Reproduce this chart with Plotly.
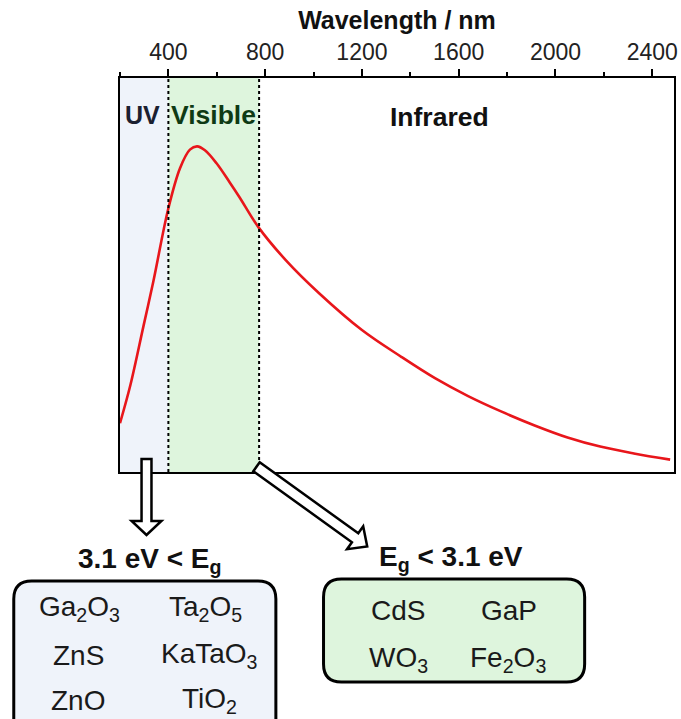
import plotly.graph_objects as go

# ---- data ----
wavelength_nm = [200, 243, 297, 338, 400, 448, 489, 519, 551, 599, 653, 694, 772,
                 886, 1023, 1200, 1364, 1502, 1639, 1775, 1914, 2050, 2185, 2324, 2474]
intensity = [0.150, 0.267, 0.448, 0.586, 0.810, 0.933, 0.990, 1.000, 0.988, 0.948,
             0.890, 0.844, 0.752, 0.650, 0.549, 0.436, 0.353, 0.288, 0.233, 0.186,
             0.143, 0.106, 0.078, 0.057, 0.038]
tick_vals = [400, 800, 1200, 1600, 2000, 2400]
uv_range = [200, 400]
visible_range = [400, 775]
region_labels = ["UV", "Visible", "Infrared"]
wide_gap = ["Ga<sub>2</sub>O<sub>3</sub>", "Ta<sub>2</sub>O<sub>5</sub>",
            "ZnS", "KaTaO<sub>3</sub>", "ZnO", "TiO<sub>2</sub>"]
narrow_gap = ["CdS", "GaP", "WO<sub>3</sub>", "Fe<sub>2</sub>O<sub>3</sub>"]

# ---- layout geometry (pixels) ----
W, H = 681, 719
ML, MR, MT, MB = 120, 3, 78, 247
PW, PH = W - ML - MR, H - MT - MB
FONT = "Arial, Liberation Sans, sans-serif"


def px(x):
    return (x - ML) / PW


def py(y):
    return (H - MB - y) / PH


def arrow_path(x0, y0, x1, y1, shw, hhw, hlen):
    import math
    dx, dy = x1 - x0, y1 - y0
    L = math.hypot(dx, dy)
    ux, uy = dx / L, dy / L
    nx, ny = -uy, ux
    bx, by = x1 - ux * hlen, y1 - uy * hlen
    pts = [
        (x0 + nx * shw, y0 + ny * shw),
        (bx + nx * shw, by + ny * shw),
        (bx + nx * hhw, by + ny * hhw),
        (x1, y1),
        (bx - nx * hhw, by - ny * hhw),
        (bx - nx * shw, by - ny * shw),
        (x0 - nx * shw, y0 - ny * shw),
    ]
    return "M " + " L ".join(f"{px(a):.5f},{py(b):.5f}" for a, b in pts) + " Z"


def rounded_box(x0, y0, x1, y1, r):
    P = lambda a, b: f"{px(a):.5f},{py(b):.5f}"
    return (f"M {P(x0 + r, y0)} L {P(x1 - r, y0)} Q {P(x1, y0)} {P(x1, y0 + r)} "
            f"L {P(x1, y1 - r)} Q {P(x1, y1)} {P(x1 - r, y1)} "
            f"L {P(x0 + r, y1)} Q {P(x0, y1)} {P(x0, y1 - r)} "
            f"L {P(x0, y0 + r)} Q {P(x0, y0)} {P(x0 + r, y0)} Z")


fig = go.Figure()
fig.add_trace(go.Scatter(x=wavelength_nm, y=intensity, mode="lines",
                         line=dict(color="#e8161b", width=2.6, shape="spline", smoothing=1.0),
                         hoverinfo="skip", showlegend=False))

shapes = [
    dict(type="rect", xref="x", yref="paper", x0=uv_range[0], x1=uv_range[1], y0=0, y1=1,
         fillcolor="#eff3fa", line_width=0, layer="below"),
    dict(type="rect", xref="x", yref="paper", x0=visible_range[0], x1=visible_range[1], y0=0, y1=1,
         fillcolor="#def5dd", line_width=0, layer="below"),
    dict(type="line", xref="x", yref="paper", x0=uv_range[1], x1=uv_range[1], y0=0, y1=1,
         line=dict(color="black", width=2, dash="dot")),
    dict(type="line", xref="x", yref="paper", x0=visible_range[1], x1=visible_range[1], y0=0, y1=1,
         line=dict(color="black", width=2, dash="dot")),
    dict(type="path", xref="paper", yref="paper",
         path=arrow_path(146.7, 459, 146.7, 535, 5, 15, 14),
         fillcolor="white", line=dict(color="black", width=2.5)),
    dict(type="path", xref="paper", yref="paper",
         path=arrow_path(257.5, 466.7, 369, 546.5, 5.5, 14, 15),
         fillcolor="white", line=dict(color="black", width=2.5)),
    dict(type="path", xref="paper", yref="paper",
         path=rounded_box(13, 581, 277, 745, 18),
         fillcolor="#eff3fa", line=dict(color="black", width=3)),
    dict(type="path", xref="paper", yref="paper",
         path=rounded_box(325, 579, 588, 682, 18),
         fillcolor="#def5dd", line=dict(color="black", width=3)),
]

ann = []


def text(x, y, t, size, color="#1a1a1a", bold=False):
    ann.append(dict(x=px(x), y=py(y), xref="paper", yref="paper", text=(f"<b>{t}</b>" if bold else t),
                    showarrow=False, xanchor="center", yanchor="middle",
                    font=dict(family=FONT, size=size, color=color)))


text(143, 115, region_labels[0], 25, "#1b2030", True)
text(214, 115, region_labels[1], 26.5, "#0e3a14", True)
text(442, 117, region_labels[2], 26.5, "#111111", True)
text(150, 560, "3.1 eV &lt; E<sub>g</sub>", 28, "#111111", True)
text(453, 558, "E<sub>g</sub> &lt; 3.1 eV", 28, "#111111", True)

left_pos = [(79, 608), (206, 608), (78, 655), (210, 655), (78, 700), (210, 700)]
for (x, y), t in zip(left_pos, wide_gap):
    text(x, y, t, 28)
right_pos = [(400, 610), (512, 610), (401, 659), (511, 659)]
for (x, y), t in zip(right_pos, narrow_gap):
    text(x, y, t, 28)

fig.update_layout(
    width=W, height=H,
    margin=dict(l=ML, r=MR, t=MT, b=MB, pad=0),
    paper_bgcolor="white", plot_bgcolor="white",
    shapes=shapes, annotations=ann,
    xaxis=dict(side="top", range=[200, 2490], tickvals=tick_vals,
               ticks="outside", ticklen=7, tickwidth=2, tickcolor="black",
               minor=dict(dtick=200, tick0=0, ticks="outside", ticklen=4, tickwidth=2, tickcolor="black"),
               showline=True, linecolor="black", linewidth=2, mirror=True,
               showgrid=False, zeroline=False,
               tickfont=dict(family=FONT, size=23, color="#222222"),
               title=dict(text="<b>Wavelength / nm</b>", standoff=2,
                          font=dict(family=FONT, size=25, color="#111111"))),
    yaxis=dict(range=[0, 1.21], showticklabels=False, ticks="",
               showline=True, linecolor="black", linewidth=2, mirror=True,
               showgrid=False, zeroline=False),
)

fig.write_html("out.html")
